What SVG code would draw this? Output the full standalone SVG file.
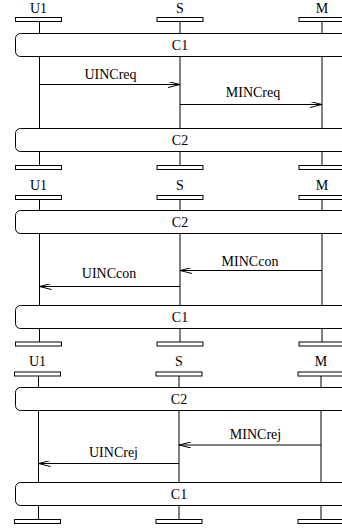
<svg xmlns="http://www.w3.org/2000/svg" width="342" height="529" viewBox="0 0 342 529">
<style>
text{font-family:"Liberation Serif","Times New Roman",serif;fill:#000;text-anchor:middle;font-size:14px}
.bar{fill:#fff;stroke:#000;stroke-width:1}
.box{fill:#fff;stroke:#000;stroke-width:1}
.life{stroke:#000;stroke-width:1;fill:none}
.msg{stroke:#000;stroke-width:1;fill:none;marker-end:url(#ah)}
</style>
<defs>
<marker id="ah" viewBox="0 0 12 6" refX="12" refY="3" markerWidth="12" markerHeight="6" markerUnits="userSpaceOnUse" orient="auto">
<path d="M0,0 L12,3 L0,6" fill="none" stroke="#000" stroke-width="1"/>
</marker>
</defs>
<rect width="342" height="529" fill="#fff"/>

<g id="lifelines">
<path class="life" d="M39.5,21.5V165.5 M180,21.5V165.5 M322,21.5V165.5"/>
<path class="life" d="M39.5,199.5V342 M180,199.5V342 M322,199.5V342"/>
<path class="life" d="M38.5,376V519.5 M179,376V519.5 M321,376V519.5"/>
</g>

<g id="p1-U1"><text x="38.5" y="13">U1</text><rect class="bar" x="15.5" y="17.5" width="46" height="4"/><rect class="bar" x="15.5" y="165.5" width="46" height="4"/></g>
<g id="p1-S"><text x="180" y="13">S</text><rect class="bar" x="157" y="17.5" width="46" height="4"/><rect class="bar" x="157" y="165.5" width="46" height="4"/></g>
<g id="p1-M"><text x="322" y="13">M</text><rect class="bar" x="299" y="17.5" width="46" height="4"/><rect class="bar" x="299" y="165.5" width="46" height="4"/></g>
<g id="p1-C1"><rect class="box" x="15.5" y="33.5" width="340" height="23" rx="5"/><text x="180" y="50">C1</text></g>
<g id="p1-C2"><rect class="box" x="15.5" y="128.5" width="340" height="23" rx="5"/><text x="180" y="145">C2</text></g>

<g id="p2-U1"><text x="38.5" y="189.5">U1</text><rect class="bar" x="15.5" y="195.5" width="46" height="4"/><rect class="bar" x="15.5" y="342" width="46" height="4"/></g>
<g id="p2-S"><text x="180" y="189.5">S</text><rect class="bar" x="157" y="195.5" width="46" height="4"/><rect class="bar" x="157" y="342" width="46" height="4"/></g>
<g id="p2-M"><text x="322" y="189.5">M</text><rect class="bar" x="299" y="195.5" width="46" height="4"/><rect class="bar" x="299" y="342" width="46" height="4"/></g>
<g id="p2-C2"><rect class="box" x="15.5" y="210.5" width="340" height="23" rx="5"/><text x="180" y="227">C2</text></g>
<g id="p2-C1"><rect class="box" x="15.5" y="305.5" width="340" height="23" rx="5"/><text x="180" y="322">C1</text></g>

<g id="p3-U1"><text x="37.5" y="366">U1</text><rect class="bar" x="14.5" y="372" width="46" height="4"/><rect class="bar" x="14.5" y="519.5" width="46" height="4"/></g>
<g id="p3-S"><text x="179" y="366">S</text><rect class="bar" x="156" y="372" width="46" height="4"/><rect class="bar" x="156" y="519.5" width="46" height="4"/></g>
<g id="p3-M"><text x="321" y="366">M</text><rect class="bar" x="298" y="372" width="46" height="4"/><rect class="bar" x="298" y="519.5" width="46" height="4"/></g>
<g id="p3-C2"><rect class="box" x="15.5" y="387.5" width="340" height="23" rx="5"/><text x="179" y="404">C2</text></g>
<g id="p3-C1"><rect class="box" x="15.5" y="482.5" width="340" height="23" rx="5"/><text x="179" y="499">C1</text></g>

<g id="connectors">
<path class="msg" d="M39.5,84.5H180"/>
<text x="110.5" y="78.5">UINCreq</text>
<path class="msg" d="M180,104.5H322"/>
<text x="253" y="97">MINCreq</text>
<path class="msg" d="M322,270.5H180"/>
<text x="250" y="266">MINCcon</text>
<path class="msg" d="M180,286.5H39.5"/>
<text x="109" y="278">UINCcon</text>
<path class="msg" d="M321,445H179"/>
<text x="255.5" y="438.5">MINCrej</text>
<path class="msg" d="M179,463.5H38.5"/>
<text x="113.5" y="457">UINCrej</text>
</g>
</svg>
